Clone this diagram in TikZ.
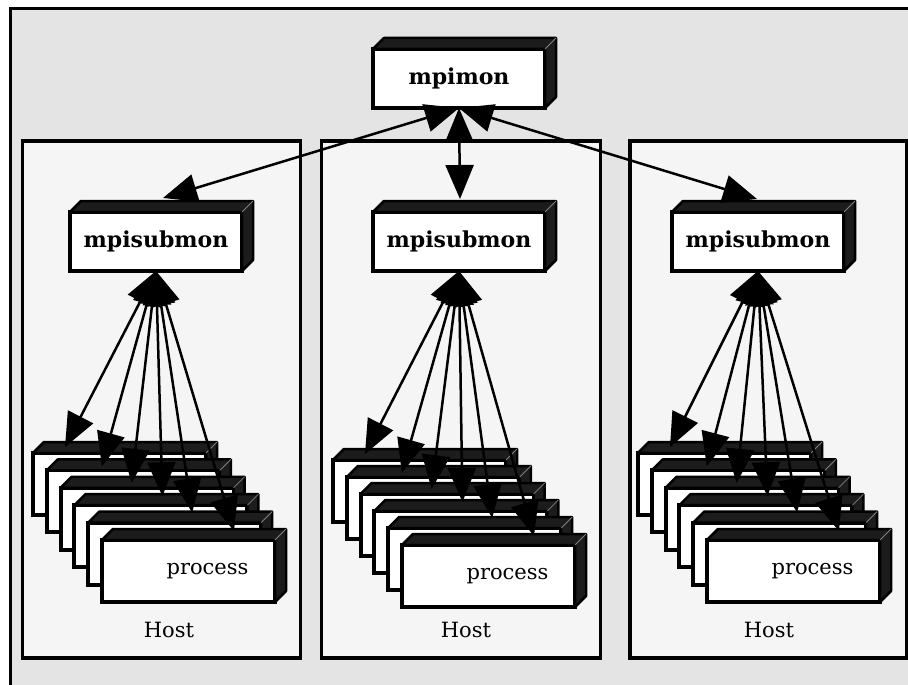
\documentclass[tikz,border=0pt]{standalone}
\usepackage{fontspec}
\setmainfont{DejaVu Serif}
\usetikzlibrary{arrows.meta}

\definecolor{pagegray}{HTML}{E4E4E4}
\definecolor{hostgray}{HTML}{F5F5F5}
\definecolor{sidedark}{HTML}{1C1C1C}

\tikzset{
  x=1pt, y=-1pt,
  hostbox/.style={draw=black, line width=3.2pt, fill=hostgray, anchor=north west,
    inner sep=0pt, outer sep=0pt},
  frontbox/.style={draw=black, line width=4pt, fill=white, anchor=north west,
    inner sep=0pt, outer sep=0pt},
  monbox/.style={frontbox, minimum width=172pt, minimum height=59pt,
    font=\bfseries\fontsize{22}{25}\selectfont},
  procbox/.style={frontbox, minimum width=173pt, minimum height=62pt},
  plain label/.style={font=\fontsize{21}{24}\selectfont, inner sep=0pt},
  link/.style={line width=2.5pt, <->, >={Triangle[length=34pt,width=28pt]}},
}

% dark top and right faces of a box, drawn after its front face
\newcommand\extrude[2]{%
  \filldraw[fill=sidedark, draw=black, line width=2.5pt, line join=round]
    (#1.north west) -- ++(#2,-#2) -- ([shift={(#2,-#2)}]#1.north east)
    -- ([shift={(#2,-#2)}]#1.south east) -- (#1.south east)
    -- (#1.north east) -- cycle;
  \draw[gray, line width=0.8pt] (#1.north east) -- ++(#2,-#2);
}

\begin{document}
\begin{tikzpicture}
\useasboundingbox (0,0) rectangle (908,685);
\fill[white] (0,0) rectangle (908,685);
\fill[pagegray] (10.5,8.5) rectangle (920,700);
\draw[line width=3.2pt] (10.5,700) -- (10.5,8.5) -- (920,8.5);

% hosts
\node[hostbox, minimum width=278pt, minimum height=517pt] (host1) at (22.5,141) {};
\node[hostbox, minimum width=279pt, minimum height=517pt] (host2) at (321.5,141) {};
\node[hostbox, minimum width=277pt, minimum height=517pt] (host3) at (630,141) {};
\node[plain label] (hl1) at (169,630) {Host};
\node[plain label] (hl2) at (466,630) {Host};
\node[plain label] (hl3) at (769,630) {Host};

% monitors
\node[monbox] (mon) at (373,49) {mpimon};
\extrude{mon}{11}
\node[monbox] (sub1) at (70,212) {mpisubmon};
\extrude{sub1}{11}
\node[monbox] (sub2) at (373,212) {mpisubmon};
\extrude{sub2}{11}
\node[monbox] (sub3) at (672,212) {mpisubmon};
\extrude{sub3}{11}

% process stacks
\foreach \h/\bx/\by/\sy in {1/33/453/17.4, 2/333/460/17, 3/638/453/17.4} {
  \foreach \k in {0,...,5} {
    \node[procbox] (p\h-\k) at ({\bx+13.8*\k},{\by+\sy*\k}) {};
    \extrude{p\h-\k}{11}
  }
}
\node[plain label] (pl1) at ([xshift=19pt]p1-5.center) {process};
\node[plain label] (pl2) at ([xshift=19pt]p2-5.center) {process};
\node[plain label] (pl3) at ([xshift=19pt]p3-5.center) {process};

% links between submonitors and processes
\foreach \h in {1,2,3} {
  \foreach \k/\dx/\dy in {0/32/-6, 1/55/-4, 2/71/-5, 3/88/-9, 4/104/-10, 5/132/-9} {
    \draw[link] (sub\h.south) -- ([shift={(\dx,\dy)}]p\h-\k.north west);
  }
}

% links between monitor and submonitors
\draw[link] (mon.south) -- ([shift={(7,-14)}]sub1.north);
\draw[link] (mon.south) -- ([shift={(1,-13)}]sub2.north);
\draw[link] (mon.south) -- ([shift={(-1,-13)}]sub3.north);
\end{tikzpicture}
\end{document}
